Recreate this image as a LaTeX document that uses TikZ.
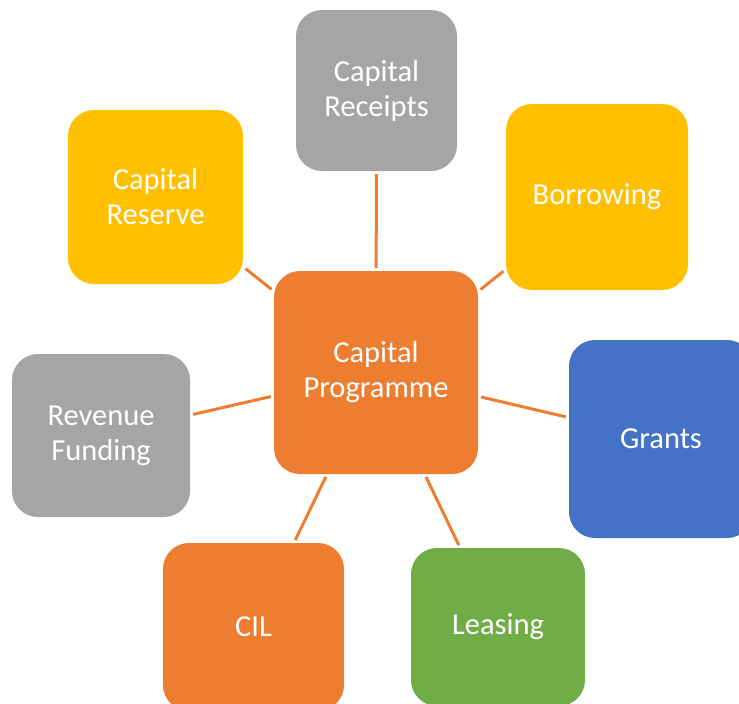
\documentclass[tikz,border=0pt]{standalone}
\usepackage{fontspec}
\setmainfont{Carlito}
\definecolor{boxgray}{HTML}{A5A5A5}
\definecolor{boxgold}{HTML}{FFC000}
\definecolor{boxorange}{HTML}{ED7D31}
\definecolor{boxblue}{HTML}{4472C4}
\definecolor{boxgreen}{HTML}{70AD47}
\begin{document}
\begin{tikzpicture}[x=1pt, y=-1pt,
    main/.style = {rounded corners=26pt, text=white, align=center, inner sep=0pt,
                   font=\fontsize{30.5}{35}\selectfont},
    link/.style = {draw=boxorange, line width=3pt, shorten <=3pt, shorten >=3pt}]
    \useasboundingbox (0,0) rectangle (739,704);
    \clip (0,0) rectangle (739,704);

    \node[main, fill=boxorange, minimum width=204pt, minimum height=203pt] (prog) at (376,372.5) {Capital\\Programme};
    \node[main, fill=boxgray, minimum width=161pt, minimum height=161pt] (rcpt) at (376.5,90.5) {Capital\\Receipts};
    \node[main, fill=boxgold, minimum width=182pt, minimum height=186pt] (borr) at (597,197) {Borrowing};
    \node[main, fill=boxgold, minimum width=175pt, minimum height=174pt] (resv) at (155.5,197) {Capital\\Reserve};
    \node[main, fill=boxgray, minimum width=178pt, minimum height=163pt] (revf) at (101,435.5) {Revenue\\Funding};
    \node[main, fill=boxblue, minimum width=184pt, minimum height=198pt] (grnt) at (661,439) {Grants};
    \node[main, fill=boxorange, minimum width=181pt, minimum height=168pt] (cil) at (253.5,627) {CIL};
    \node[main, fill=boxgreen, minimum width=174pt, minimum height=158pt] (leas) at (498,627) {Leasing};

    \draw[link] (prog) -- (rcpt);
    \draw[link] (prog) -- (borr);
    \draw[link] (prog) -- (resv);
    \draw[link] (prog) -- (revf);
    \draw[link] (prog) -- (grnt);
    \draw[link] (prog) -- (cil);
    \draw[link] (prog) -- (leas);
\end{tikzpicture}
\end{document}
